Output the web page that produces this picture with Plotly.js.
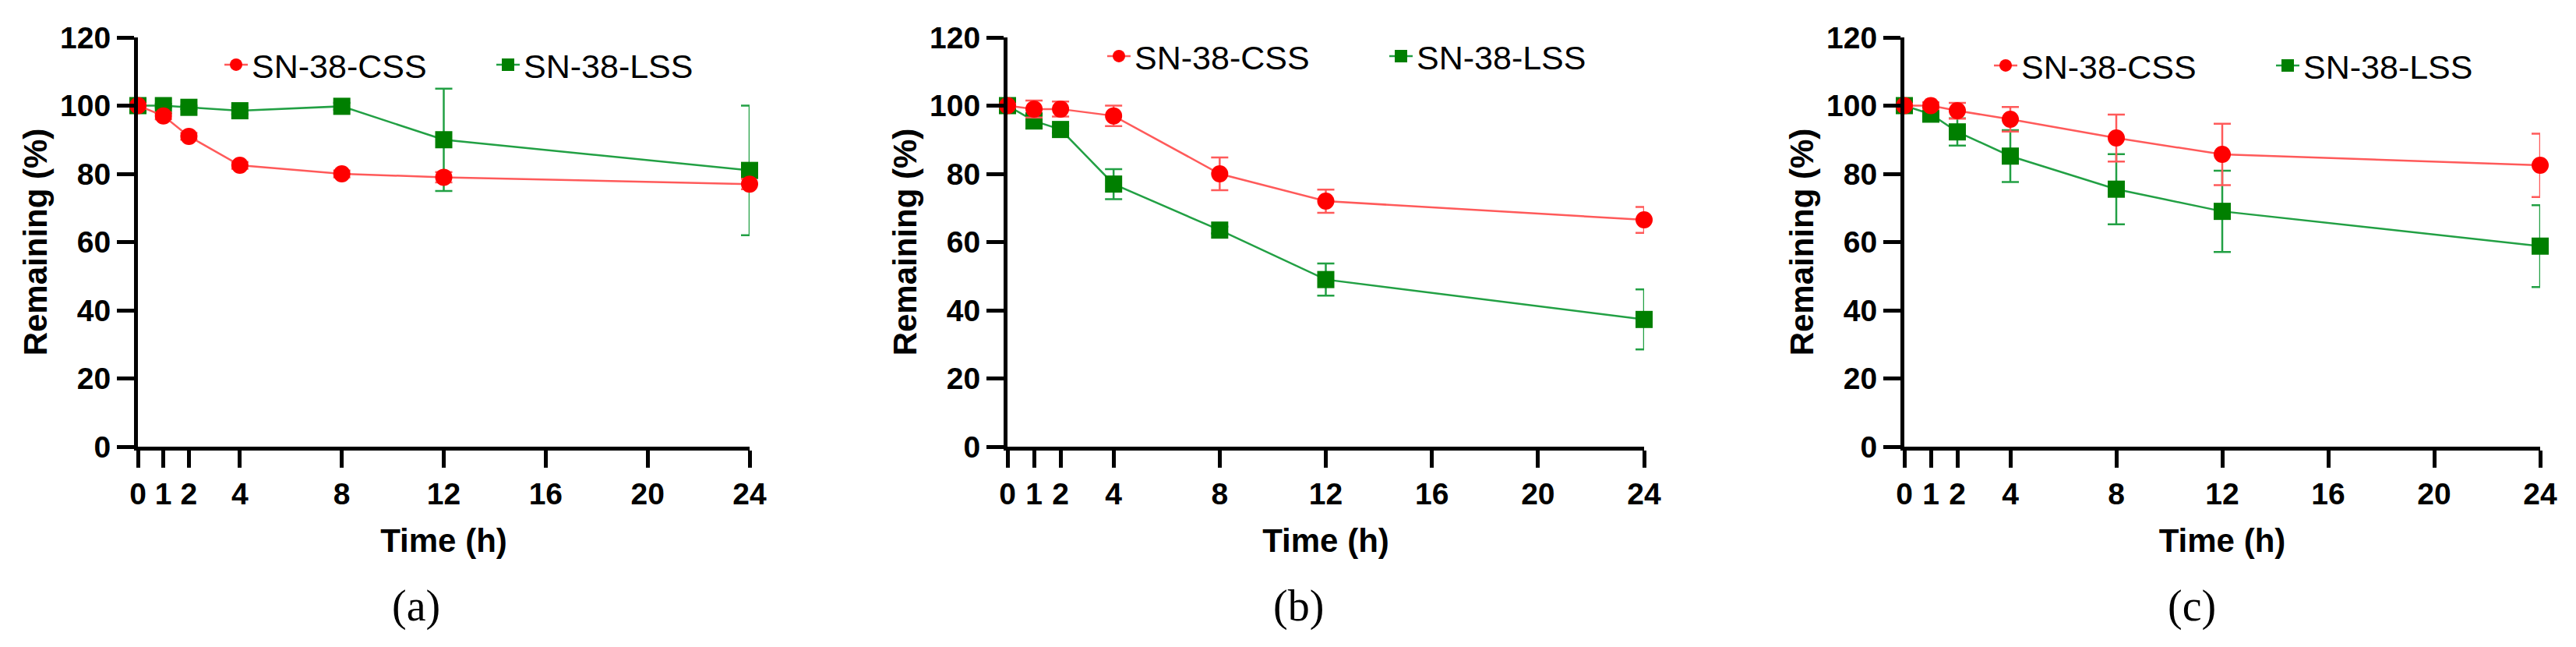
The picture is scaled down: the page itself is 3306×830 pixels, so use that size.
<!DOCTYPE html>
<html>
<head>
<meta charset="utf-8">
<script src="https://cdn.plot.ly/plotly-3.0.1.min.js"></script>
<style>
  html, body { margin: 0; padding: 0; background: #fff; }
  #myDiv { width: 3306px; height: 830px; }
</style>
</head>
<body>
<div id="myDiv"></div>
<script>
// sampling times (h)
var timePoints = [0, 1, 2, 4, 8, 12, 24];
var timeTicks = [0, 1, 2, 4, 8, 12, 16, 20, 24];
var seriesNames = ['SN-38-CSS', 'SN-38-LSS'];
var panelLabels = ['(a)', '(b)', '(c)'];

// panel (a)
var cssA = [100, 97, 91, 82.5, 80, 79, 77];
var cssA_sd = [0.5, 1, 1, 1, 1, 1.5, 1.5];
var lssA = [100, 100, 99.5, 98.5, 99.8, 90, 81];
var lssA_sd = [0.5, 0.5, 0.5, 1, 1, 15, 19];

// panel (b)
var cssB = [100, 99, 99, 97, 80, 72, 66.5];
var cssB_sd = [0.5, 2.5, 2.2, 3, 4.8, 3.4, 3.8];
var lssB = [100, 95.5, 93, 77, 63.5, 49, 37.3];
var lssB_sd = [0.5, 2.2, 1, 4.4, 1, 4.7, 8.8];

// panel (c)
var cssC = [100, 100, 98.5, 96, 90.5, 85.7, 82.5];
var cssC_sd = [0.5, 1, 2.3, 3.6, 6.9, 9, 9.3];
var lssC = [100, 97.5, 92.3, 85.2, 75.5, 69, 58.8];
var lssC_sd = [0.5, 1, 4, 7.6, 10.3, 11.9, 12];

var redMarker = '#ff0000';
var redLine = '#ff5a5a';
var greenMarker = '#007f00';
var greenLine = '#22a044';

var W = 3306, H = 830;

function makeTrace(y, sd, panel, isCss) {
  var suffix = panel === 0 ? '' : String(panel + 1);
  return {
    x: timePoints,
    y: y,
    type: 'scatter',
    mode: 'lines+markers',
    name: isCss ? seriesNames[0] : seriesNames[1],
    xaxis: 'x' + suffix,
    yaxis: 'y' + suffix,
    legend: 'legend' + suffix,
    legendrank: isCss ? 1 : 2,
    cliponaxis: false,
    line: {color: isCss ? redLine : greenLine, width: 2.5},
    marker: {
      symbol: isCss ? 'circle' : 'square',
      size: 22,
      color: isCss ? redMarker : greenMarker
    },
    error_y: {
      type: 'data',
      array: sd,
      visible: true,
      color: isCss ? redLine : greenLine,
      thickness: 2.5,
      width: 11
    }
  };
}

// green drawn first so red sits on top
var data = [
  makeTrace(lssA, lssA_sd, 0, false),
  makeTrace(cssA, cssA_sd, 0, true),
  makeTrace(lssB, lssB_sd, 1, false),
  makeTrace(cssB, cssB_sd, 1, true),
  makeTrace(lssC, lssC_sd, 2, false),
  makeTrace(cssC, cssC_sd, 2, true)
];

// plot-area pixel boxes
var xDomains = [[177, 962], [1293, 2110], [2444, 3260]];
var yTop = 48, yBottom = 573;
var legendLeft = [283, 1416, 2554];
var legendMid = [83, 72, 84];
var legendEntry = [304, 317, 317];
var captionX = [534, 1666, 2813];

var tickFont = {family: 'Liberation Sans, Arial, sans-serif', size: 39, color: '#000', weight: 'bold'};
var titleFont = {family: 'Liberation Sans, Arial, sans-serif', size: 42, color: '#000', weight: 'bold'};

var layout = {
  width: W,
  height: H,
  margin: {l: 0, r: 0, t: 0, b: 0},
  paper_bgcolor: '#fff',
  plot_bgcolor: 'rgba(0,0,0,0)',
  annotations: []
};

for (var i = 0; i < 3; i++) {
  var s = i === 0 ? '' : String(i + 1);
  layout['xaxis' + s] = {
    domain: [xDomains[i][0] / W, xDomains[i][1] / W],
    anchor: 'y' + s,
    range: [0, 24],
    tickvals: timeTicks,
    ticktext: timeTicks.map(String),
    showgrid: false,
    zeroline: false,
    showline: true,
    linecolor: '#000',
    linewidth: 5,
    ticks: 'outside',
    ticklen: 22,
    tickwidth: 5,
    tickcolor: '#000',
    tickfont: tickFont,
    title: {text: 'Time (h)', font: titleFont, standoff: 26}
  };
  layout['yaxis' + s] = {
    domain: [1 - yBottom / H, 1 - yTop / H],
    anchor: 'x' + s,
    range: [0, 120],
    dtick: 20,
    showgrid: false,
    zeroline: false,
    showline: true,
    linecolor: '#000',
    linewidth: 5,
    ticks: 'outside',
    ticklen: 22,
    tickwidth: 5,
    tickcolor: '#000',
    tickfont: tickFont,
    title: {text: 'Remaining (%)', font: titleFont, standoff: 5}
  };
  layout['legend' + s] = {
    x: legendLeft[i] / W,
    xanchor: 'left',
    y: 1 - legendMid[i] / H,
    yanchor: 'middle',
    orientation: 'h',
    bgcolor: 'rgba(0,0,0,0)',
    borderwidth: 0,
    entrywidth: legendEntry[i],
    traceorder: 'normal',
    font: {family: 'Liberation Sans, Arial, sans-serif', size: 43, color: '#000'}
  };
  layout.annotations.push({
    text: panelLabels[i],
    xref: 'paper',
    yref: 'paper',
    x: captionX[i] / W,
    y: 1 - 777 / H,
    xanchor: 'center',
    yanchor: 'middle',
    showarrow: false,
    font: {family: 'Liberation Serif, Times New Roman, serif', size: 56, color: '#000'}
  });
}

Plotly.newPlot('myDiv', data, layout, {displayModeBar: false, staticPlot: true});
</script>
</body>
</html>
